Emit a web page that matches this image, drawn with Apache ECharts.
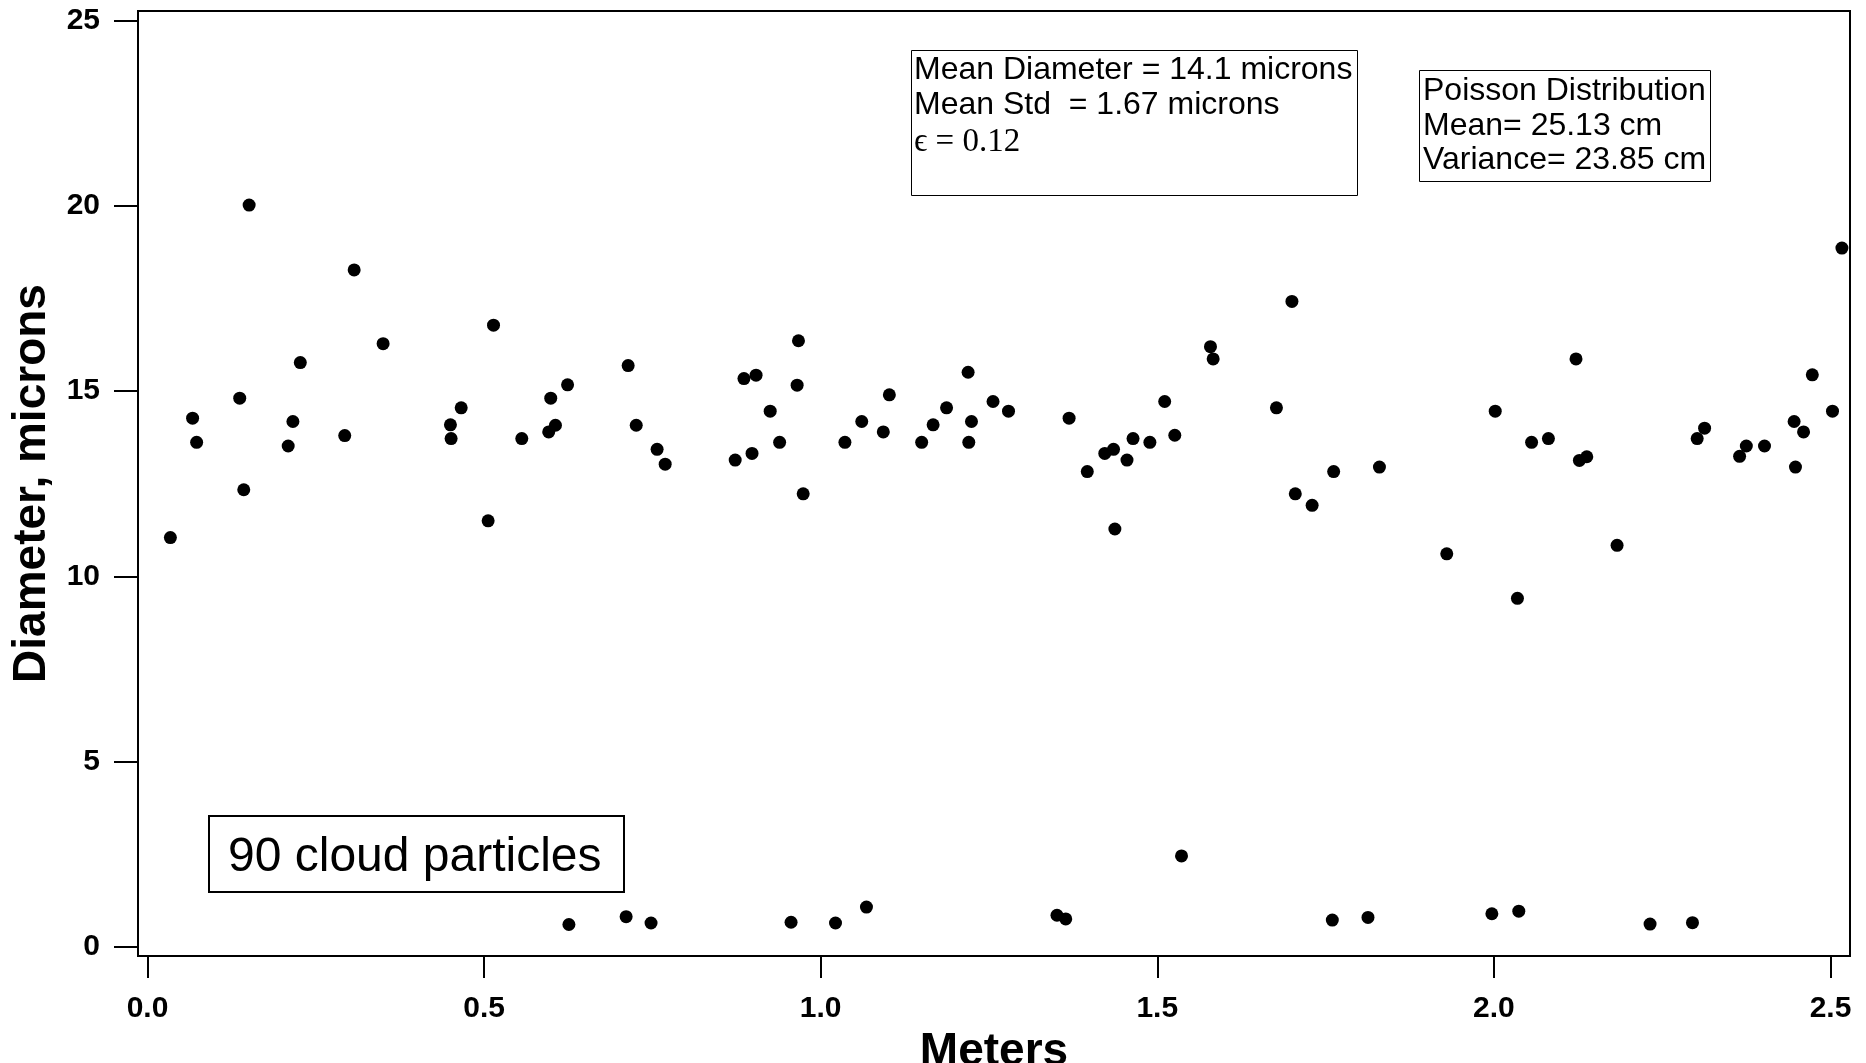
<!DOCTYPE html>
<html>
<head>
<meta charset="utf-8">
<script src="https://cdn.jsdelivr.net/npm/echarts@6/dist/echarts.min.js"></script>
<style>
html,body{margin:0;padding:0;background:#fff;overflow:hidden;}
#chart{width:1866px;height:1063px;}
</style>
</head>
<body>
<div id="chart"></div>
<script>
// Particle positions (Meters) and diameters (microns)
const meters = [
  0.034, 0.067, 0.073, 0.137, 0.143, 0.151, 0.209, 0.216, 0.227, 0.293,
  0.307, 0.350, 0.450, 0.451, 0.466, 0.506, 0.514, 0.556, 0.596, 0.599,
  0.606, 0.624, 0.626, 0.711, 0.714, 0.726, 0.748, 0.757, 0.769, 0.873,
  0.886, 0.898, 0.904, 0.925, 0.939, 0.956, 0.965, 0.967, 0.974, 1.022,
  1.036, 1.061, 1.068, 1.093, 1.102, 1.150, 1.167, 1.187, 1.219, 1.220,
  1.224, 1.256, 1.279, 1.351, 1.364, 1.369, 1.396, 1.422, 1.435, 1.437,
  1.455, 1.464, 1.489, 1.511, 1.526, 1.536, 1.579, 1.583, 1.677, 1.700,
  1.705, 1.730, 1.760, 1.762, 1.813, 1.830, 1.930, 1.997, 2.002, 2.035,
  2.037, 2.056, 2.081, 2.122, 2.127, 2.138, 2.183, 2.232, 2.295, 2.302,
  2.313, 2.365, 2.375, 2.402, 2.446, 2.448, 2.460, 2.473, 2.503, 2.517
];
const diameters = [
  11.05, 14.27, 13.62, 14.81, 12.34, 20.02, 13.52, 14.18, 15.77, 13.80,
  18.27, 16.28, 14.09, 13.72, 14.55, 11.50, 16.78, 13.72, 13.90, 14.81,
  14.08, 15.17, 0.61, 0.82, 15.69, 14.08, 0.65, 13.43, 13.03, 13.14,
  15.34, 13.32, 15.43, 14.46, 13.62, 0.67, 15.16, 16.36, 12.23, 0.65,
  13.62, 14.18, 1.08, 13.90, 14.90, 13.62, 14.09, 14.55, 15.51, 13.62,
  14.18, 14.72, 14.46, 0.86, 0.76, 14.27, 12.83, 13.32, 13.43, 11.28,
  13.14, 13.72, 13.62, 14.72, 13.81, 2.46, 16.20, 15.87, 14.55, 17.42,
  12.23, 11.92, 0.73, 12.83, 0.80, 12.95, 10.61, 0.90, 14.46, 9.41,
  0.97, 13.62, 13.72, 15.87, 13.13, 13.23, 10.84, 0.62, 0.66, 13.72,
  14.00, 13.24, 13.52, 13.52, 14.18, 12.95, 13.90, 15.44, 14.46, 18.86
];
const xTicks = [0, 0.5, 1.0, 1.5, 2.0, 2.5];
const yTicks = [0, 5, 10, 15, 20, 25];
const statsLines = ['Mean Diameter = 14.1 microns', 'Mean Std  = 1.67 microns'];
const epsilonLine = '\u03F5 = 0.12';
const poissonLines = ['Poisson Distribution', 'Mean= 25.13 cm', 'Variance= 23.85 cm'];
const countLabel = '90 cloud particles';
const xName = 'Meters';
const yName = 'Diameter, microns';

const points = meters.map((m, i) => [m, diameters[i]]);
const sans = '"Liberation Sans", Arial, sans-serif';
const serif = '"Liberation Serif", "DejaVu Serif", "Times New Roman", serif';

function textEl(x, y, text, size, family, weight) {
  return {
    type: 'text', left: x, top: y - size * 0.5, z: 100,
    style: { text: text, fontSize: size, fontFamily: family, fontWeight: weight || 'normal',
             fill: '#000', verticalAlign: 'top', lineHeight: size }
  };
}

const chart = echarts.init(document.getElementById('chart'));
chart.setOption({
  backgroundColor: '#ffffff',
  animation: false,
  grid: { left: 138, top: 11, right: 16, bottom: 107, show: true, borderColor: '#000', borderWidth: 2,
          backgroundColor: 'transparent', containLabel: false, outerBoundsMode: 'none' },
  xAxis: {
    type: 'value', min: -0.0141, max: 2.529,
    name: xName, nameLocation: 'middle', nameGap: 62,
    nameTextStyle: { fontSize: 46, fontWeight: 'bold', fontFamily: sans, color: '#000' },
    axisLine: { show: true, onZero: false, lineStyle: { color: '#000', width: 2 } },
    axisTick: { show: true, inside: false, length: 22, lineStyle: { color: '#000', width: 2 }, customValues: xTicks },
    axisLabel: { show: true, margin: 38, fontSize: 30, fontWeight: 'bold', fontFamily: sans, color: '#000',
                 customValues: xTicks, formatter: v => v.toFixed(1) },
    splitLine: { show: false }
  },
  yAxis: {
    type: 'value', min: -0.24, max: 25.256,
    name: yName, nameLocation: 'middle', nameGap: 80,
    nameTextStyle: { fontSize: 46, fontWeight: 'bold', fontFamily: sans, color: '#000' },
    axisLine: { show: true, onZero: false, lineStyle: { color: '#000', width: 2 } },
    axisTick: { show: true, inside: false, length: 24, lineStyle: { color: '#000', width: 2 }, customValues: yTicks },
    axisLabel: { show: true, margin: 38, fontSize: 30, fontWeight: 'bold', fontFamily: sans, color: '#000',
                 customValues: yTicks, formatter: v => String(v) },
    splitLine: { show: false }
  },
  series: [{
    type: 'scatter', data: points, symbol: 'circle', symbolSize: 13,
    itemStyle: { color: '#000', opacity: 1 }, z: 5
  }],
  graphic: [
    { type: 'rect', shape: { x: 911.5, y: 50.5, width: 446, height: 145 }, style: { fill: '#fff', stroke: '#000', lineWidth: 1 }, z: 50 },
    textEl(914, 70, statsLines[0], 32, sans),
    textEl(914, 105, statsLines[1], 32, sans),
    textEl(914, 142, epsilonLine, 33, serif),
    { type: 'rect', shape: { x: 1419.5, y: 70.5, width: 291, height: 111 }, style: { fill: '#fff', stroke: '#000', lineWidth: 1 }, z: 50 },
    textEl(1423, 91.5, poissonLines[0], 32, sans),
    textEl(1423, 126.5, poissonLines[1], 32, sans),
    textEl(1423, 160.5, poissonLines[2], 32, sans),
    { type: 'rect', shape: { x: 209, y: 816, width: 415, height: 76 }, style: { fill: '#fff', stroke: '#000', lineWidth: 2 }, z: 50 },
    textEl(228, 858, countLabel, 48, sans)
  ]
});
</script>
</body>
</html>
